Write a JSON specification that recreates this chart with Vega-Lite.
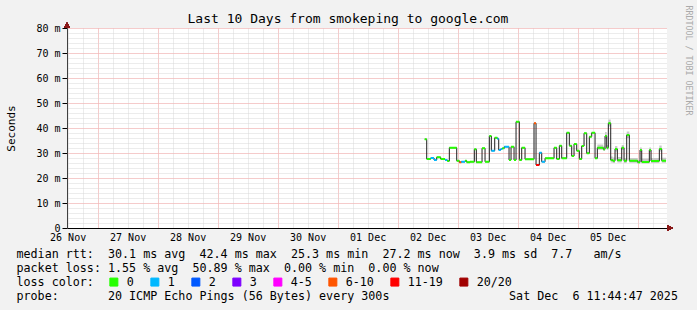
{
  "$schema": "https://vega.github.io/schema/vega-lite/v6.json",
  "width": 600,
  "height": 200,
  "autosize": {"type": "none"},
  "padding": {"left": 67, "top": 28, "right": 30, "bottom": 82},
  "background": "#f2f2f2",
  "config": {"view": {"stroke": null, "fill": "white"}, "font": "DejaVu Sans Mono"},
  "title": {"text": "Last 10 Days from smokeping to google.com", "font": "DejaVu Sans Mono", "fontSize": 13, "fontWeight": "normal", "color": "black", "anchor": "middle", "frame": "group", "dx": -19, "dy": 35, "offset": 4.5, "baseline": "alphabetic"},
  "data": {"values": [
    {"t": "2025-12-02T10:50:00Z", "t2": "2025-12-02T11:38:00Z", "v": 35.5, "loss": "0"},
    {"t": "2025-12-02T11:38:00Z", "t2": "2025-12-02T13:14:00Z", "v": 27.6, "loss": "0"},
    {"t": "2025-12-02T13:14:00Z", "t2": "2025-12-02T14:34:00Z", "v": 28.0, "loss": "1"},
    {"t": "2025-12-02T14:34:00Z", "t2": "2025-12-02T15:38:00Z", "v": 27.2, "loss": "1"},
    {"t": "2025-12-02T15:38:00Z", "t2": "2025-12-02T17:14:00Z", "v": 28.3, "loss": "0"},
    {"t": "2025-12-02T17:14:00Z", "t2": "2025-12-02T18:58:00Z", "v": 27.6, "loss": "0"},
    {"t": "2025-12-02T18:58:00Z", "t2": "2025-12-02T19:53:00Z", "v": 27.2, "loss": "1"},
    {"t": "2025-12-02T19:53:00Z", "t2": "2025-12-02T20:41:00Z", "v": 26.8, "loss": "0"},
    {"t": "2025-12-02T20:41:00Z", "t2": "2025-12-02T23:38:00Z", "v": 32.1, "loss": "0"},
    {"t": "2025-12-02T23:38:00Z", "t2": "2025-12-03T00:41:00Z", "v": 26.9, "loss": "0"},
    {"t": "2025-12-03T00:41:00Z", "t2": "2025-12-03T01:29:00Z", "v": 26.3, "loss": "6-10"},
    {"t": "2025-12-03T01:29:00Z", "t2": "2025-12-03T02:58:00Z", "v": 26.5, "loss": "1"},
    {"t": "2025-12-03T02:58:00Z", "t2": "2025-12-03T03:38:00Z", "v": 26.9, "loss": "0"},
    {"t": "2025-12-03T03:38:00Z", "t2": "2025-12-03T04:58:00Z", "v": 26.3, "loss": "0"},
    {"t": "2025-12-03T04:58:00Z", "t2": "2025-12-03T06:41:00Z", "v": 26.5, "loss": "0"},
    {"t": "2025-12-03T06:41:00Z", "t2": "2025-12-03T07:29:00Z", "v": 31.5, "loss": "0"},
    {"t": "2025-12-03T07:29:00Z", "t2": "2025-12-03T09:46:00Z", "v": 26.3, "loss": "0"},
    {"t": "2025-12-03T09:46:00Z", "t2": "2025-12-03T10:58:00Z", "v": 31.9, "loss": "0"},
    {"t": "2025-12-03T10:58:00Z", "t2": "2025-12-03T12:41:00Z", "v": 26.5, "loss": "0"},
    {"t": "2025-12-03T12:41:00Z", "t2": "2025-12-03T13:29:00Z", "v": 36.8, "loss": "0"},
    {"t": "2025-12-03T13:29:00Z", "t2": "2025-12-03T14:50:00Z", "v": 30.9, "loss": "1"},
    {"t": "2025-12-03T14:50:00Z", "t2": "2025-12-03T15:53:00Z", "v": 36.1, "loss": "0"},
    {"t": "2025-12-03T15:53:00Z", "t2": "2025-12-03T16:26:00Z", "v": 35.7, "loss": "1"},
    {"t": "2025-12-03T16:26:00Z", "t2": "2025-12-03T17:14:00Z", "v": 31.2, "loss": "1"},
    {"t": "2025-12-03T17:14:00Z", "t2": "2025-12-03T17:53:00Z", "v": 31.6, "loss": "1"},
    {"t": "2025-12-03T17:53:00Z", "t2": "2025-12-03T18:41:00Z", "v": 31.9, "loss": "0"},
    {"t": "2025-12-03T18:41:00Z", "t2": "2025-12-03T20:34:00Z", "v": 32.5, "loss": "1"},
    {"t": "2025-12-03T20:34:00Z", "t2": "2025-12-03T21:22:00Z", "v": 27.2, "loss": "0"},
    {"t": "2025-12-03T21:22:00Z", "t2": "2025-12-03T22:34:00Z", "v": 32.5, "loss": "0"},
    {"t": "2025-12-03T22:34:00Z", "t2": "2025-12-03T23:22:00Z", "v": 27.2, "loss": "0"},
    {"t": "2025-12-03T23:22:00Z", "t2": "2025-12-04T00:41:00Z", "v": 42.5, "loss": "0"},
    {"t": "2025-12-04T00:41:00Z", "t2": "2025-12-04T01:38:00Z", "v": 27.2, "loss": "0"},
    {"t": "2025-12-04T01:38:00Z", "t2": "2025-12-04T02:58:00Z", "v": 32.1, "loss": "0"},
    {"t": "2025-12-04T02:58:00Z", "t2": "2025-12-04T06:34:00Z", "v": 27.5, "loss": "0"},
    {"t": "2025-12-04T06:34:00Z", "t2": "2025-12-04T07:22:00Z", "v": 41.9, "loss": "6-10"},
    {"t": "2025-12-04T07:22:00Z", "t2": "2025-12-04T08:41:00Z", "v": 25.2, "loss": "11-19"},
    {"t": "2025-12-04T08:41:00Z", "t2": "2025-12-04T09:38:00Z", "v": 30.1, "loss": "1"},
    {"t": "2025-12-04T09:38:00Z", "t2": "2025-12-04T10:58:00Z", "v": 26.5, "loss": "1"},
    {"t": "2025-12-04T10:58:00Z", "t2": "2025-12-04T14:34:00Z", "v": 27.9, "loss": "0"},
    {"t": "2025-12-04T14:34:00Z", "t2": "2025-12-04T15:38:00Z", "v": 32.1, "loss": "0"},
    {"t": "2025-12-04T15:38:00Z", "t2": "2025-12-04T16:41:00Z", "v": 27.6, "loss": "0"},
    {"t": "2025-12-04T16:41:00Z", "t2": "2025-12-04T17:38:00Z", "v": 32.9, "loss": "0"},
    {"t": "2025-12-04T17:38:00Z", "t2": "2025-12-04T19:38:00Z", "v": 27.9, "loss": "0"},
    {"t": "2025-12-04T19:38:00Z", "t2": "2025-12-04T20:41:00Z", "v": 38.1, "loss": "0"},
    {"t": "2025-12-04T20:41:00Z", "t2": "2025-12-04T21:38:00Z", "v": 32.9, "loss": "0"},
    {"t": "2025-12-04T21:38:00Z", "t2": "2025-12-04T22:34:00Z", "v": 28.8, "loss": "0"},
    {"t": "2025-12-04T22:34:00Z", "t2": "2025-12-04T23:38:00Z", "v": 33.6, "loss": "0"},
    {"t": "2025-12-04T23:38:00Z", "t2": "2025-12-05T00:41:00Z", "v": 30.9, "loss": "0"},
    {"t": "2025-12-05T00:41:00Z", "t2": "2025-12-05T01:38:00Z", "v": 27.6, "loss": "0"},
    {"t": "2025-12-05T01:38:00Z", "t2": "2025-12-05T02:34:00Z", "v": 32.8, "loss": "0"},
    {"t": "2025-12-05T02:34:00Z", "t2": "2025-12-05T03:38:00Z", "v": 37.9, "loss": "0"},
    {"t": "2025-12-05T03:38:00Z", "t2": "2025-12-05T04:41:00Z", "v": 29.9, "loss": "0"},
    {"t": "2025-12-05T04:41:00Z", "t2": "2025-12-05T05:38:00Z", "v": 36.5, "loss": "0"},
    {"t": "2025-12-05T05:38:00Z", "t2": "2025-12-05T06:58:00Z", "v": 38.1, "loss": "0"},
    {"t": "2025-12-05T06:58:00Z", "t2": "2025-12-05T07:53:00Z", "v": 27.9, "loss": "0"},
    {"t": "2025-12-05T07:53:00Z", "t2": "2025-12-05T10:17:00Z", "v": 32.1, "loss": "0", "lo": 31.3, "hi": 33.4},
    {"t": "2025-12-05T10:17:00Z", "t2": "2025-12-05T10:58:00Z", "v": 31.5, "loss": "0", "lo": 30.8, "hi": 32.6},
    {"t": "2025-12-05T10:58:00Z", "t2": "2025-12-05T11:38:00Z", "v": 36.8, "loss": "0", "lo": 35.6, "hi": 38.4},
    {"t": "2025-12-05T11:38:00Z", "t2": "2025-12-05T12:17:00Z", "v": 32.1, "loss": "0", "lo": 31.3, "hi": 33.2},
    {"t": "2025-12-05T12:17:00Z", "t2": "2025-12-05T13:14:00Z", "v": 41.9, "loss": "0", "lo": 40.6, "hi": 43.4},
    {"t": "2025-12-05T13:14:00Z", "t2": "2025-12-05T14:02:00Z", "v": 27.2, "loss": "0", "lo": 26.2, "hi": 28.6},
    {"t": "2025-12-05T14:02:00Z", "t2": "2025-12-05T14:58:00Z", "v": 26.9, "loss": "0", "lo": 26.0, "hi": 28.2},
    {"t": "2025-12-05T14:58:00Z", "t2": "2025-12-05T15:53:00Z", "v": 31.6, "loss": "0", "lo": 30.6, "hi": 32.8},
    {"t": "2025-12-05T15:53:00Z", "t2": "2025-12-05T17:38:00Z", "v": 27.1, "loss": "0", "lo": 26.2, "hi": 28.4},
    {"t": "2025-12-05T17:38:00Z", "t2": "2025-12-05T18:34:00Z", "v": 32.1, "loss": "0", "lo": 31.2, "hi": 33.2},
    {"t": "2025-12-05T18:34:00Z", "t2": "2025-12-05T19:38:00Z", "v": 26.9, "loss": "0", "lo": 26.0, "hi": 28.0},
    {"t": "2025-12-05T19:38:00Z", "t2": "2025-12-05T20:41:00Z", "v": 37.2, "loss": "0", "lo": 36.0, "hi": 38.6},
    {"t": "2025-12-05T20:41:00Z", "t2": "2025-12-06T00:02:00Z", "v": 26.9, "loss": "0", "lo": 26.1, "hi": 28.0},
    {"t": "2025-12-06T00:02:00Z", "t2": "2025-12-06T00:58:00Z", "v": 26.3, "loss": "0", "lo": 25.8, "hi": 27.2},
    {"t": "2025-12-06T00:58:00Z", "t2": "2025-12-06T01:38:00Z", "v": 31.2, "loss": "0", "lo": 30.4, "hi": 32.2},
    {"t": "2025-12-06T01:38:00Z", "t2": "2025-12-06T04:41:00Z", "v": 26.4, "loss": "0", "lo": 25.8, "hi": 27.8},
    {"t": "2025-12-06T04:41:00Z", "t2": "2025-12-06T05:22:00Z", "v": 31.2, "loss": "0", "lo": 30.4, "hi": 32.2},
    {"t": "2025-12-06T05:22:00Z", "t2": "2025-12-06T08:41:00Z", "v": 26.8, "loss": "0", "lo": 26.0, "hi": 28.0},
    {"t": "2025-12-06T08:41:00Z", "t2": "2025-12-06T09:38:00Z", "v": 31.6, "loss": "0", "lo": 30.6, "hi": 33.0},
    {"t": "2025-12-06T09:38:00Z", "t2": "2025-12-06T11:22:00Z", "v": 26.9, "loss": "0", "lo": 26.1, "hi": 28.1}
  ]},
  "resolve": {"axis": {"x": "independent", "y": "independent"}},
  "layer": [
    {
      "transform": [{"filter": "isValid(datum.lo)"}],
      "mark": {"type": "rect", "fill": "#c8c8c8"},
      "encoding": {
        "x": {"field": "t", "type": "temporal",
          "scale": {"type": "utc", "domain": [{"year": 2025, "month": 11, "date": 26, "hours": 11, "minutes": 45, "utc": true}, {"year": 2025, "month": 12, "date": 6, "hours": 11, "minutes": 45, "utc": true}]},
          "axis": {"orient": "bottom", "grid": true, "gridColor": "#d9d9d9", "gridDash": [1, 1], "tickCount": 40, "labels": false, "ticks": false, "domain": false, "title": null}},
        "x2": {"field": "t2"},
        "y": {"field": "lo", "type": "quantitative", "scale": {"domain": [0, 80], "nice": false},
          "axis": {"orient": "left", "grid": true, "gridColor": "#d9d9d9", "gridDash": [1, 1], "tickCount": 40, "labels": false, "ticks": false, "domain": false, "title": null}},
        "y2": {"field": "hi"}
      }
    },
    {
      "mark": {"type": "line", "interpolate": "step-after", "color": "#202020", "strokeWidth": 1},
      "encoding": {
        "x": {"field": "t", "type": "temporal",
          "axis": {"orient": "bottom", "grid": true, "gridColor": "#ffaaaa", "gridDash": [1, 1], "tickCount": 10, "labels": false, "ticks": false, "domain": false, "title": null}},
        "y": {"field": "v", "type": "quantitative",
          "axis": {"orient": "left", "grid": true, "gridColor": "#ffaaaa", "gridDash": [1, 1], "tickCount": 8,
            "labelExpr": "datum.value == 0 ? '0' : datum.value + ' m'", "labelFont": "DejaVu Sans Mono", "labelFontSize": 10, "labelColor": "black", "labelPadding": 2,
            "ticks": true, "tickSize": 5, "tickColor": "black", "domain": true, "domainColor": "#404040",
            "title": "Seconds", "titleFont": "DejaVu Sans Mono", "titleFontSize": 11, "titleFontWeight": "normal", "titleColor": "black",
            "titleX": -56, "titleY": 100, "titleAngle": 270, "titleAlign": "center", "titleBaseline": "middle"}}
      }
    },
    {
      "mark": {"type": "rule", "strokeWidth": 2, "strokeCap": "butt"},
      "encoding": {
        "x": {"field": "t", "type": "temporal",
          "axis": {"orient": "bottom", "grid": false, "ticks": false, "domain": true, "domainColor": "black",
            "values": [
              {"year": 2025, "month": 11, "date": 26, "hours": 12, "utc": true},
              {"year": 2025, "month": 11, "date": 27, "hours": 12, "utc": true},
              {"year": 2025, "month": 11, "date": 28, "hours": 12, "utc": true},
              {"year": 2025, "month": 11, "date": 29, "hours": 12, "utc": true},
              {"year": 2025, "month": 11, "date": 30, "hours": 12, "utc": true},
              {"year": 2025, "month": 12, "date": 1, "hours": 12, "utc": true},
              {"year": 2025, "month": 12, "date": 2, "hours": 12, "utc": true},
              {"year": 2025, "month": 12, "date": 3, "hours": 12, "utc": true},
              {"year": 2025, "month": 12, "date": 4, "hours": 12, "utc": true},
              {"year": 2025, "month": 12, "date": 5, "hours": 12, "utc": true}
            ],
            "labelExpr": "utcFormat(datum.value, '%d %b')", "labelFont": "DejaVu Sans Mono", "labelFontSize": 10, "labelColor": "black", "labelPadding": 4, "labelFlush": false, "labelOverlap": false,
            "title": [
              "median rtt:\u00a0\u00a030.1 ms avg\u00a0\u00a042.4 ms max\u00a0\u00a025.3 ms min\u00a0\u00a027.2 ms now\u00a0\u00a03.9 ms sd\u00a0\u00a07.7\u00a0\u00a0\u00a0am/s",
              "packet loss: 1.55 % avg\u00a0\u00a050.89 % max\u00a0\u00a00.00 % min\u00a0\u00a00.00 % now",
              "loss color:",
              "probe:\u00a0\u00a0\u00a0\u00a0\u00a0\u00a0\u00a020 ICMP Echo Pings (56 Bytes) every 300s\u00a0\u00a0\u00a0\u00a0\u00a0\u00a0\u00a0\u00a0\u00a0\u00a0\u00a0\u00a0\u00a0\u00a0\u00a0\u00a0\u00a0Sat Dec\u00a0\u00a06 11:44:47 2025"
            ],
            "titleFont": "DejaVu Sans Mono", "titleFontSize": 11.7, "titleFontWeight": "normal", "titleColor": "black",
            "titleX": -51, "titleY": 20, "titleAlign": "left", "titleBaseline": "top", "titleLineHeight": 14}},
        "x2": {"field": "t2"},
        "y": {"field": "v", "type": "quantitative",
          "axis": {"orient": "right", "grid": false, "labels": false, "ticks": false, "domain": false,
            "title": "RRDTOOL / TOBI OETIKER", "titleFont": "DejaVu Sans Mono", "titleFontSize": 8.3, "titleFontWeight": "normal", "titleColor": "#aaaaaa",
            "titleAngle": 90, "titleX": 20, "titleY": -23, "titleAlign": "left", "titleBaseline": "middle"}},
        "color": {"field": "loss", "type": "nominal",
          "scale": {"domain": ["0", "1", "2", "3", "4-5", "6-10", "11-19", "20/20"], "range": ["#26ff00", "#00b8ff", "#0059ff", "#7e00ff", "#ff00ff", "#ff5500", "#ff0000", "#a10000"]},
          "legend": {"orient": "none", "legendX": 41, "legendY": 248, "direction": "horizontal", "columns": 8, "title": null,
            "symbolType": "square", "symbolSize": 64, "symbolStrokeColor": "black", "symbolStrokeWidth": 1,
            "labelFont": "DejaVu Sans Mono", "labelFontSize": 11.7, "labelColor": "black", "labelOffset": 7, "columnPadding": 14, "padding": 0,
            "encode": {"symbols": {"update": {"fill": {"scale": "color", "field": "value"}, "stroke": {"value": "black"}, "fillOpacity": {"value": 1}, "opacity": {"value": 1}}}}}}
      }
    },
    {
      "mark": {"type": "point", "shape": "triangle-right", "filled": true, "size": 30, "color": "#8b1a1a", "opacity": 1, "xOffset": 3},
      "encoding": {
        "x": {"datum": {"year": 2025, "month": 12, "date": 6, "hours": 11, "minutes": 45, "utc": true}, "type": "temporal", "axis": null},
        "y": {"datum": 0, "type": "quantitative", "axis": null}
      }
    },
    {
      "mark": {"type": "point", "shape": "triangle-up", "filled": true, "size": 30, "color": "#8b1a1a", "opacity": 1, "yOffset": -3},
      "encoding": {
        "x": {"datum": {"year": 2025, "month": 11, "date": 26, "hours": 11, "minutes": 45, "utc": true}, "type": "temporal", "axis": null},
        "y": {"datum": 80, "type": "quantitative", "axis": null}
      }
    }
  ]
}
